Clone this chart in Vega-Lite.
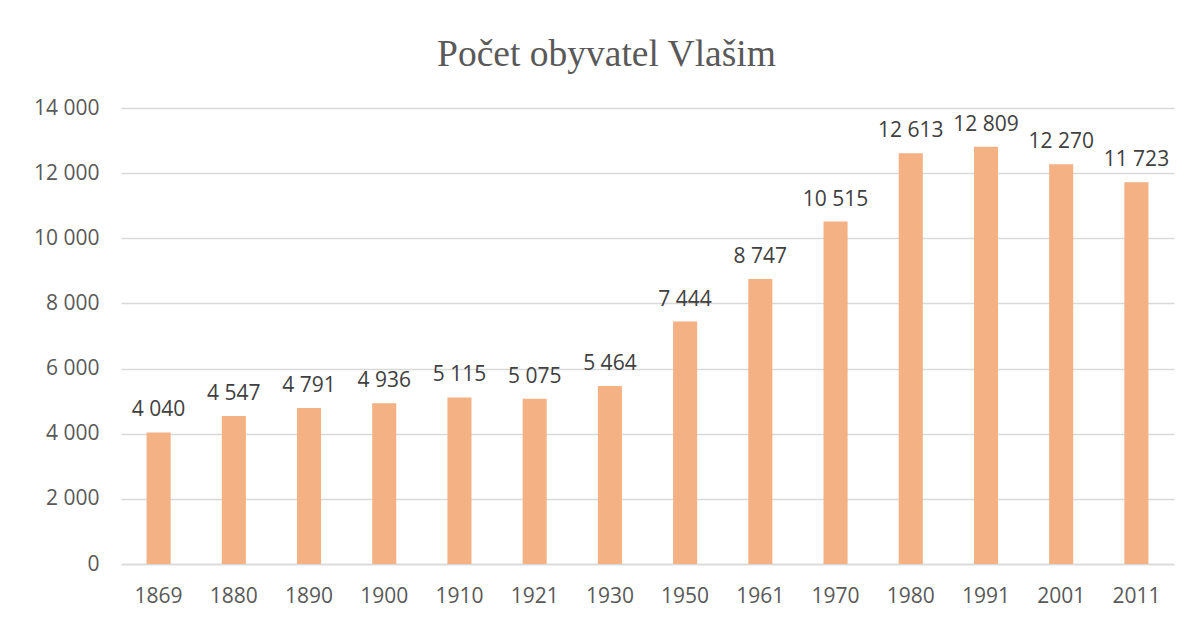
{
  "$schema": "https://vega.github.io/schema/vega-lite/v6.json",
  "autosize": {"type": "none"},
  "width": 1053,
  "height": 456,
  "padding": {"left": 121, "top": 108, "right": 13, "bottom": 54},
  "background": "white",
  "config": {
    "locale": {"number": {"decimal": ",", "thousands": " ", "grouping": [3], "currency": ["", " Kč"]}},
    "view": {"stroke": null},
    "font": "Open Sans"
  },
  "title": {
    "text": "Počet obyvatel Vlašim",
    "font": "Liberation Serif",
    "fontSize": 37.5,
    "fontWeight": "normal",
    "color": "#595959",
    "anchor": "middle",
    "dx": -41,
    "offset": 24
  },
  "data": {
    "values": [
      {"rok": "1869", "obyvatel": 4040},
      {"rok": "1880", "obyvatel": 4547},
      {"rok": "1890", "obyvatel": 4791},
      {"rok": "1900", "obyvatel": 4936},
      {"rok": "1910", "obyvatel": 5115},
      {"rok": "1921", "obyvatel": 5075},
      {"rok": "1930", "obyvatel": 5464},
      {"rok": "1950", "obyvatel": 7444},
      {"rok": "1961", "obyvatel": 8747},
      {"rok": "1970", "obyvatel": 10515},
      {"rok": "1980", "obyvatel": 12613},
      {"rok": "1991", "obyvatel": 12809},
      {"rok": "2001", "obyvatel": 12270},
      {"rok": "2011", "obyvatel": 11723}
    ]
  },
  "encoding": {
    "x": {
      "field": "rok",
      "type": "ordinal",
      "sort": null,
      "scale": {"paddingInner": 0.68, "paddingOuter": 0.34},
      "axis": {
        "title": null,
        "labelAngle": 0,
        "labelFont": "Open Sans",
        "labelFontSize": 21,
        "labelColor": "#595959",
        "labelPadding": 21,
        "ticks": false,
        "domain": true,
        "domainColor": "#d9d9d9",
        "domainWidth": 1.5
      }
    },
    "y": {
      "field": "obyvatel",
      "type": "quantitative",
      "scale": {"domain": [0, 14000], "nice": false},
      "axis": {
        "title": null,
        "values": [0, 2000, 4000, 6000, 8000, 10000, 12000, 14000],
        "format": ",d",
        "labelFont": "Open Sans",
        "labelFontSize": 21,
        "labelColor": "#595959",
        "labelPadding": 22,
        "ticks": false,
        "domain": false,
        "gridColor": "#d9d9d9",
        "gridWidth": 1.5
      }
    }
  },
  "layer": [
    {"mark": {"type": "bar", "color": "#F4B183"}},
    {
      "mark": {"type": "text", "baseline": "alphabetic", "dy": -16, "font": "Open Sans", "fontSize": 21, "color": "#404040"},
      "encoding": {"text": {"field": "obyvatel", "type": "quantitative", "format": ",d"}}
    }
  ]
}
